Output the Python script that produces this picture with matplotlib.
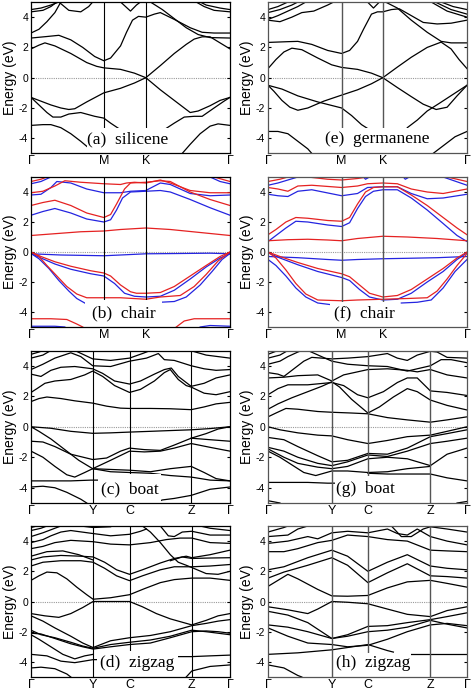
import matplotlib
matplotlib.use("Agg")
import matplotlib.pyplot as plt
from matplotlib.patches import Rectangle

plt.rcParams['font.family'] = ['Liberation Sans', 'DejaVu Sans']

# high-symmetry points (fraction of the k-path) and their labels
kpts_a = [0, 0.366, 0.577, 1]
kpts_e = [0, 0.37, 0.577, 1]
klabels_hex = ['Γ', 'M', 'K', 'Γ']
kpts_c = [0, 0.31, 0.495, 0.805, 1]
kpts_g = [0, 0.321, 0.502, 0.816, 1]
kpts_d = [0, 0.312, 0.495, 0.808, 1]
kpts_h = [0, 0.321, 0.502, 0.816, 1]
klabels_rect = ['Γ', 'Y', 'C', 'Z', 'Γ']

# ---- (a) silicene: bands as (k, E) knots
bands_a = [
    [(0, -1.3), (0.05, -1.55), (0.1, -1.8), (0.15, -2.0), (0.19, -2.1), (0.22, -2.05), (0.28, -1.6),
     (0.366, -1.0), (0.45, -0.7), (0.52, -0.35), (0.577, 0), (0.65, -0.8), (0.72, -1.5), (0.77, -2.0),
     (0.8, -2.3), (0.84, -2.2), (0.9, -1.85), (0.95, -1.5), (1, -1.3)],
    [(0, -1.3), (0.04, -1.8), (0.08, -2.3), (0.11, -2.6), (0.15, -2.6), (0.19, -2.4), (0.25, -2.3),
     (0.32, -2.55), (0.366, -2.67), (0.4, -3.0), (0.44, -3.35), (0.5, -3.7), (0.577, -3.9), (0.65, -3.6),
     (0.72, -3.0), (0.77, -2.6), (0.82, -2.55), (0.86, -2.55), (0.92, -2.0), (0.97, -1.55), (1, -1.3)],
    [(0, -3.15), (0.06, -3.1), (0.1, -3.1), (0.15, -3.3), (0.2, -3.7), (0.25, -4.2), (0.3, -4.75), (0.32, -5.0)],
    [(0.76, -5.0), (0.8, -4.4), (0.85, -3.7), (0.9, -3.2), (0.94, -3.05), (1, -3.15)],
    [(0, 1.9), (0.04, 2.15), (0.07, 2.3), (0.12, 2.1), (0.2, 1.6), (0.28, 1.0), (0.33, 0.75), (0.366, 0.65),
     (0.45, 0.55), (0.52, 0.3), (0.577, 0), (0.65, 0.8), (0.72, 1.6), (0.78, 2.2), (0.82, 2.55),
     (0.86, 2.7), (0.9, 2.7), (0.95, 2.3), (1, 1.9)],
    [(0, 2.62), (0.08, 2.72), (0.14, 2.8), (0.2, 2.5), (0.26, 2.0), (0.32, 1.4), (0.366, 1.12), (0.4, 1.3),
     (0.45, 2.1), (0.48, 3.0), (0.51, 3.8), (0.54, 4.05), (0.577, 4.0), (0.62, 4.2), (0.65, 4.3),
     (0.72, 3.85), (0.8, 3.3), (0.86, 3.0), (0.92, 2.95), (1, 2.95)],
    [(0, 2.95), (0.04, 3.2), (0.08, 3.7), (0.12, 4.3), (0.15, 5.0)],
    [(0.6, 5.0), (0.66, 4.5), (0.72, 3.9), (0.78, 3.3), (0.84, 2.85), (0.9, 2.65), (1, 2.62)],
    [(0, 4.5), (0.05, 4.6), (0.1, 4.8), (0.14, 5.0)],
    [(0, 4.35), (0.06, 4.45), (0.1, 4.7), (0.13, 5.0)],
    [(0.14, 5.0), (0.19, 4.45), (0.25, 4.35), (0.29, 4.7), (0.31, 5.0)],
    [(0.45, 5.0), (0.5, 4.4), (0.53, 4.8), (0.55, 5.0)],
    [(0.85, 5.0), (0.88, 4.8), (0.95, 4.6), (1, 4.5)],
    [(0.83, 5.0), (0.87, 4.7), (0.92, 4.45), (1, 4.35)],
]

# ---- (e) germanene
bands_e = [
    [(0, -0.5), (0.03, -0.9), (0.07, -1.5), (0.11, -1.95), (0.15, -2.15), (0.2, -2.0), (0.28, -1.55),
     (0.37, -1.15), (0.45, -0.8), (0.52, -0.4), (0.577, 0), (0.65, -0.65), (0.72, -1.25), (0.78, -1.75),
     (0.845, -2.1), (0.9, -1.95), (0.95, -1.2), (1, -0.5)],
    [(0, -0.5), (0.07, -0.75), (0.15, -1.2), (0.25, -1.6), (0.37, -2.0), (0.42, -2.5), (0.47, -3.1), (0.5, -3.35)],
    [(0.7, -3.3), (0.75, -2.8), (0.8, -2.2), (0.86, -1.7), (0.93, -1.1), (1, -0.5)],
    [(0, -3.55), (0.05, -3.55), (0.1, -3.7), (0.15, -4.2), (0.2, -4.7), (0.22, -5.0)],
    [(0.83, -5.0), (0.88, -4.5), (0.94, -3.9), (1, -3.55)],
    [(0, 0.6), (0.04, 1.2), (0.08, 1.7), (0.12, 1.95), (0.17, 1.85), (0.25, 1.3), (0.32, 0.85), (0.37, 0.68),
     (0.45, 0.55), (0.52, 0.3), (0.577, 0), (0.65, 0.7), (0.72, 1.35), (0.8, 2.0), (0.87, 2.35),
     (0.92, 1.9), (0.96, 1.2), (1, 0.6)],
    [(0, 2.33), (0.1, 2.38), (0.15, 2.4), (0.22, 2.2), (0.3, 1.8), (0.37, 1.6), (0.41, 1.8), (0.45, 2.4),
     (0.48, 3.2), (0.52, 4.2), (0.55, 4.35), (0.577, 4.35), (0.62, 4.5), (0.66, 4.55), (0.72, 4.1),
     (0.78, 3.65), (0.85, 3.55), (0.92, 3.6), (1, 3.8)],
    [(0.59, 5.0), (0.65, 4.6), (0.72, 3.8), (0.8, 3.0), (0.87, 2.4), (0.92, 2.3), (1, 2.3)],
    [(0, 3.8), (0.06, 3.7), (0.12, 4.0), (0.17, 4.3), (0.23, 4.4), (0.3, 4.8), (0.33, 5.0)],
    [(0, 3.85), (0.05, 4.1), (0.1, 4.4), (0.15, 4.7), (0.19, 5.0)],
    [(0, 4.3), (0.06, 4.5), (0.12, 4.8), (0.15, 5.0)],
    [(0, 4.5), (0.05, 4.7), (0.1, 5.0)],
    [(0.5, 5.0), (0.53, 4.6), (0.56, 5.0)],
    [(0.87, 5.0), (0.93, 4.7), (1, 4.5)],
    [(0.84, 5.0), (0.92, 4.5), (1, 4.2)],
    [(0.82, 5.0), (0.9, 4.4), (1, 4.0)],
]

# ---- (b) silicene chair, spin up (red) / spin down (blue)
bands_b_up = [
    [(0, 1.1), (0.15, 1.25), (0.25, 1.35), (0.366, 1.4), (0.45, 1.5), (0.577, 1.6), (0.7, 1.5), (0.85, 1.3), (1, 1.1)],
    [(0, 3.1), (0.06, 3.3), (0.12, 3.45), (0.2, 3.1), (0.28, 2.6), (0.366, 2.3), (0.4, 2.5), (0.43, 3.2),
     (0.47, 4.2), (0.5, 4.6), (0.577, 4.65), (0.65, 4.75), (0.7, 4.7), (0.8, 4.0), (0.9, 3.5), (1, 3.1)],
    [(0, 3.95), (0.06, 4.05), (0.12, 4.4), (0.17, 4.75), (0.25, 4.65), (0.366, 4.55), (0.45, 4.5), (0.48, 4.6),
     (0.52, 4.65), (0.577, 4.6), (0.65, 4.8), (0.7, 4.6), (0.8, 4.1), (0.9, 3.95), (1, 3.95)],
    [(0, 4.7), (0.05, 4.85), (0.08, 5.0)],
    [(0.92, 5.0), (1, 4.7)],
    [(0, 0), (0.05, -0.3), (0.12, -0.65), (0.2, -0.95), (0.3, -1.25), (0.366, -1.4), (0.4, -1.6), (0.45, -2.2),
     (0.5, -2.65), (0.53, -2.75), (0.577, -2.75), (0.65, -2.7), (0.72, -2.3), (0.8, -1.6), (0.88, -0.9),
     (0.95, -0.3), (1, 0)],
    [(0, 0), (0.04, -0.3), (0.08, -0.9), (0.13, -1.6), (0.18, -2.3), (0.23, -2.8), (0.28, -3.05), (0.366, -3.05),
     (0.45, -3.05), (0.577, -3.15), (0.65, -3.0), (0.75, -2.9), (0.82, -2.3), (0.88, -1.5), (0.94, -0.6), (1, 0)],
    [(0, -4.45), (0.1, -4.45), (0.18, -4.5), (0.23, -4.8), (0.26, -5.0)],
    [(0.73, -5.0), (0.77, -4.6), (0.82, -4.45), (1, -4.45)],
]
bands_b_dn = [
    [(0, -0.12), (0.15, -0.2), (0.366, -0.25), (0.45, -0.2), (0.577, -0.12), (0.75, -0.1), (0.9, -0.08), (1, -0.12)],
    [(0, 2.45), (0.06, 2.7), (0.12, 2.9), (0.2, 2.6), (0.28, 2.2), (0.366, 2.0), (0.4, 2.15), (0.43, 2.8),
     (0.46, 3.6), (0.5, 4.0), (0.577, 4.05), (0.65, 4.1), (0.7, 4.0), (0.8, 3.5), (0.9, 2.95), (1, 2.45)],
    [(0, 3.8), (0.05, 3.85), (0.1, 4.3), (0.13, 4.7), (0.2, 4.6), (0.28, 4.2), (0.366, 3.95), (0.45, 3.95),
     (0.5, 4.05), (0.577, 4.1), (0.65, 4.6), (0.7, 4.5), (0.8, 3.9), (0.9, 3.75), (1, 3.8)],
    [(0, 4.55), (0.05, 4.7), (0.1, 5.0)],
    [(0.9, 5.0), (0.95, 4.7), (1, 4.55)],
    [(0, -0.1), (0.05, -0.4), (0.12, -0.8), (0.2, -1.15), (0.3, -1.45), (0.366, -1.6), (0.42, -2.1),
     (0.47, -2.75), (0.52, -2.95), (0.577, -3.0), (0.65, -2.95), (0.72, -2.55), (0.8, -1.8), (0.88, -1.0),
     (0.95, -0.4), (1, -0.1)],
    [(0, -0.1), (0.04, -0.45), (0.09, -1.1), (0.14, -1.9), (0.19, -2.6), (0.23, -3.1), (0.27, -3.4)],
    [(0.65, -3.35), (0.72, -3.3), (0.78, -3.0), (0.85, -2.2), (0.91, -1.3), (0.96, -0.5), (1, -0.1)],
    [(0, -4.95), (0.12, -4.95), (0.17, -5.0)],
    [(0.85, -5.0), (0.9, -4.9), (1, -4.95)],
]

# ---- (f) germanene chair
bands_f_up = [
    [(0, 0.75), (0.1, 0.82), (0.2, 0.85), (0.3, 0.8), (0.37, 0.75), (0.45, 0.9), (0.577, 1.05), (0.7, 1.0),
     (0.85, 0.9), (1, 0.75)],
    [(0, 1.15), (0.04, 1.5), (0.09, 2.0), (0.14, 2.3), (0.2, 2.25), (0.3, 2.1), (0.37, 2.05), (0.41, 2.3),
     (0.45, 3.2), (0.49, 4.0), (0.53, 4.3), (0.577, 4.35), (0.65, 4.35), (0.72, 3.8), (0.8, 3.1), (0.88, 2.3),
     (0.95, 1.6), (1, 1.15)],
    [(0, 4.3), (0.05, 4.2), (0.1, 4.05), (0.15, 4.4), (0.22, 4.45), (0.37, 4.3), (0.45, 4.4), (0.5, 4.55),
     (0.577, 4.6), (0.65, 4.55), (0.72, 4.2), (0.8, 4.0), (0.88, 3.9), (1, 4.2)],
    [(0, 4.7), (0.06, 4.85), (0.1, 5.0)],
    [(0.2, 5.0), (0.3, 4.85), (0.37, 4.8), (0.45, 4.9), (0.5, 5.0)],
    [(0.9, 5.0), (1, 4.7)],
    [(0, 0), (0.06, -0.3), (0.15, -0.7), (0.25, -1.1), (0.37, -1.45), (0.41, -1.65), (0.46, -2.2), (0.51, -2.75),
     (0.577, -3.0), (0.65, -2.9), (0.72, -2.5), (0.8, -1.8), (0.88, -1.1), (0.95, -0.4), (1, 0)],
    [(0, 0), (0.04, -0.4), (0.09, -1.2), (0.14, -2.1), (0.19, -2.8), (0.25, -3.2), (0.37, -3.25), (0.45, -3.2),
     (0.577, -3.15), (0.7, -3.1), (0.8, -3.05), (0.85, -2.6), (0.9, -1.8), (0.95, -0.9), (1, -0.1)],
]
bands_f_dn = [
    [(0, -0.3), (0.15, -0.38), (0.3, -0.5), (0.37, -0.55), (0.45, -0.5), (0.577, -0.45), (0.7, -0.42),
     (0.85, -0.38), (1, -0.3)],
    [(0, 0.7), (0.04, 1.1), (0.09, 1.6), (0.14, 2.05), (0.2, 2.0), (0.3, 1.8), (0.37, 1.7), (0.41, 1.95),
     (0.45, 2.9), (0.49, 3.7), (0.53, 4.05), (0.577, 4.15), (0.65, 4.15), (0.72, 3.6), (0.8, 2.8), (0.88, 1.9),
     (0.95, 1.1), (1, 0.7)],
    [(0, 3.85), (0.05, 3.75), (0.1, 3.7), (0.15, 4.05), (0.22, 4.15), (0.37, 3.75), (0.45, 3.9), (0.5, 4.3),
     (0.577, 4.35), (0.65, 4.35), (0.72, 3.9), (0.8, 3.55), (0.88, 3.6), (1, 3.85)],
    [(0, 4.45), (0.05, 4.6), (0.15, 5.0)],
    [(0.48, 5.0), (0.49, 4.85), (0.51, 5.0)],
    [(0.68, 5.0), (0.69, 4.85), (0.71, 5.0)],
    [(0.88, 5.0), (1, 4.45)],
    [(0, -0.05), (0.06, -0.4), (0.15, -0.85), (0.25, -1.3), (0.37, -1.7), (0.41, -1.9), (0.46, -2.5),
     (0.51, -3.0), (0.577, -3.2), (0.65, -3.15), (0.72, -2.75), (0.8, -2.0), (0.88, -1.3), (0.95, -0.5), (1, -0.05)],
    [(0, -0.5), (0.04, -0.9), (0.09, -1.6), (0.14, -2.4), (0.19, -3.0), (0.25, -3.4), (0.31, -3.5)],
    [(0.67, -3.4), (0.75, -3.35), (0.82, -3.2), (0.88, -2.4), (0.94, -1.3), (1, -0.5)],
]

# ---- (c) silicene boat
bands_c = [
    [(0, 1.65), (0.04, 1.85), (0.08, 1.95), (0.15, 1.85), (0.22, 1.7), (0.31, 1.55), (0.38, 1.35), (0.45, 1.22),
     (0.495, 1.2), (0.6, 1.2), (0.7, 1.18), (0.805, 1.12), (0.87, 1.3), (0.93, 1.5), (1, 1.6)],
    [(0, 2.25), (0.03, 2.5), (0.07, 2.85), (0.12, 3.0), (0.2, 3.1), (0.27, 3.4), (0.31, 3.65), (0.36, 3.3),
     (0.42, 2.7), (0.495, 2.25), (0.55, 2.45), (0.62, 3.0), (0.67, 3.55), (0.7, 3.75), (0.74, 3.1),
     (0.78, 2.7), (0.805, 2.6), (0.87, 2.2), (0.93, 2.1), (1, 2.3)],
    [(0, 3.45), (0.05, 3.3), (0.1, 3.7), (0.15, 3.9), (0.22, 3.95), (0.31, 3.8), (0.36, 3.5), (0.42, 3.0),
     (0.495, 2.8), (0.55, 3.0), (0.62, 3.45), (0.67, 3.75), (0.705, 3.85), (0.74, 3.3), (0.78, 2.9),
     (0.805, 2.65), (0.87, 2.85), (0.93, 3.2), (1, 3.4)],
    [(0, 3.75), (0.06, 4.1), (0.12, 4.5), (0.2, 4.85), (0.25, 4.6), (0.31, 4.0), (0.4, 3.95), (0.495, 4.3),
     (0.58, 4.5), (0.64, 4.8), (0.67, 4.4), (0.72, 4.35), (0.805, 4.0), (0.87, 3.8), (0.93, 3.7), (1, 3.75)],
    [(0, 4.5), (0.06, 4.7), (0.1, 5.0)],
    [(0, 4.75), (0.04, 4.9), (0.06, 5.0)],
    [(0.22, 5.0), (0.31, 4.45), (0.4, 4.35), (0.495, 4.5), (0.56, 4.8), (0.6, 5.0)],
    [(0.8, 5.0), (0.88, 4.7), (0.94, 4.6), (1, 4.5)],
    [(0, 0), (0.1, -0.1), (0.2, -0.3), (0.31, -0.43), (0.4, -0.4), (0.495, -0.35), (0.6, -0.3), (0.7, -0.25),
     (0.805, -0.2), (0.9, -0.12), (1, 0)],
    [(0, 0), (0.04, -0.3), (0.1, -0.8), (0.17, -1.5), (0.24, -2.2), (0.31, -2.75), (0.4, -2.8), (0.495, -2.85),
     (0.6, -2.95), (0.7, -2.75), (0.805, -2.6), (0.87, -3.0), (0.93, -3.4), (1, -3.55)],
    [(0, -0.95), (0.06, -1.0), (0.12, -1.3), (0.2, -1.8), (0.31, -2.15), (0.38, -2.05), (0.45, -1.6),
     (0.495, -1.4), (0.57, -1.5), (0.65, -1.55), (0.72, -1.2), (0.805, -0.75), (0.88, -0.45), (0.94, -0.15), (1, 0)],
    [(0, -1.6), (0.06, -2.0), (0.12, -2.6), (0.18, -3.15), (0.22, -3.3), (0.27, -3.0), (0.31, -2.75),
     (0.4, -2.2), (0.495, -1.6), (0.57, -1.65), (0.65, -1.6), (0.72, -1.4), (0.805, -1.1), (0.9, -1.35), (1, -1.6)],
    [(0.805, -0.75), (0.9, -0.85), (1, -0.95)],
    [(0.31, -2.75), (0.4, -2.95), (0.495, -3.0), (0.6, -3.05), (0.7, -3.2), (0.805, -3.3), (0.9, -3.5), (1, -3.55)],
    [(0, -3.55), (0.1, -3.55), (0.2, -3.55), (0.3, -3.5), (0.34, -3.5)],
    [(0, -3.95), (0.06, -3.9), (0.12, -4.0), (0.18, -4.3), (0.25, -4.75), (0.28, -5.0)],
    [(0.62, -5.0), (0.66, -4.8), (0.72, -4.7), (0.805, -4.5), (0.9, -4.1), (1, -3.95)],
]

# ---- (g) germanene boat
bands_g = [
    [(0, 0.65), (0.04, 0.9), (0.09, 1.2), (0.15, 1.15), (0.25, 1.0), (0.321, 0.95), (0.42, 0.9), (0.502, 0.85),
     (0.6, 0.6), (0.7, 0.45), (0.816, 0.3), (0.9, 0.45), (1, 0.65)],
    [(0, 1.15), (0.05, 1.5), (0.12, 1.9), (0.2, 2.3), (0.27, 2.65), (0.321, 2.95), (0.36, 2.6), (0.42, 1.8),
     (0.502, 0.9), (0.56, 1.3), (0.63, 1.95), (0.7, 2.5), (0.75, 2.3), (0.816, 1.75), (0.9, 1.4), (1, 1.1)],
    [(0, 2.1), (0.05, 2.5), (0.1, 2.75), (0.2, 2.75), (0.321, 2.9), (0.38, 2.7), (0.45, 2.1), (0.502, 1.9),
     (0.58, 2.3), (0.65, 2.9), (0.7, 3.2), (0.75, 3.2), (0.816, 2.35), (0.9, 2.25), (1, 2.05)],
    [(0, 3.2), (0.08, 3.25), (0.15, 3.35), (0.25, 3.4), (0.321, 3.0), (0.38, 3.4), (0.502, 3.75), (0.6, 3.8),
     (0.7, 3.7), (0.75, 3.6), (0.816, 3.75), (0.9, 3.4), (1, 3.2)],
    [(0, 3.55), (0.05, 3.45), (0.08, 3.3), (0.13, 3.8), (0.18, 4.3), (0.22, 4.55), (0.321, 4.45), (0.4, 4.5),
     (0.502, 4.6), (0.6, 4.8), (0.65, 4.5), (0.7, 4.35), (0.75, 4.7), (0.816, 4.95), (0.85, 4.9), (0.9, 4.55),
     (1, 4.5)],
    [(0, 4.1), (0.06, 4.3), (0.1, 4.6), (0.15, 4.9), (0.17, 5.0)],
    [(0, 4.5), (0.06, 4.7), (0.1, 5.0)],
    [(0, 4.75), (0.04, 4.95), (0.05, 5.0)],
    [(0.2, 5.0), (0.321, 4.3), (0.4, 4.1), (0.502, 4.0), (0.6, 3.95), (0.7, 3.65), (0.816, 4.0), (0.87, 4.4),
     (0.92, 4.4), (1, 4.2)],
    [(0, 0), (0.06, -0.2), (0.15, -0.4), (0.25, -0.55), (0.321, -0.6), (0.4, -0.85), (0.502, -1.1), (0.6, -0.9),
     (0.7, -0.65), (0.816, -0.55), (0.9, -0.3), (1, 0)],
    [(0, -0.7), (0.08, -0.85), (0.15, -1.3), (0.25, -1.9), (0.321, -2.3), (0.4, -2.2), (0.502, -1.75),
     (0.6, -1.8), (0.7, -1.4), (0.816, -0.65), (0.9, -0.45), (1, -0.2)],
    [(0, -1.35), (0.08, -1.6), (0.15, -2.0), (0.25, -2.4), (0.321, -2.55), (0.4, -2.3), (0.502, -1.85),
     (0.6, -1.95), (0.7, -1.6), (0.816, -1.1), (0.9, -0.95), (1, -0.75)],
    [(0, -1.45), (0.08, -2.0), (0.15, -2.4), (0.25, -2.65), (0.321, -2.75), (0.4, -2.6), (0.502, -2.1),
     (0.6, -2.0), (0.7, -2.1), (0.816, -2.55), (0.9, -1.8), (1, -1.4)],
    [(0, -1.6), (0.06, -2.0), (0.12, -2.5), (0.18, -3.0), (0.24, -3.2), (0.321, -2.9), (0.4, -2.9),
     (0.502, -3.0), (0.6, -2.95), (0.7, -2.75), (0.816, -2.6)],
    [(0.502, -3.05), (0.6, -3.1), (0.7, -3.1), (0.816, -3.1), (0.9, -3.35), (1, -3.55)],
    [(0, -3.65), (0.1, -3.65), (0.2, -3.65), (0.3, -3.7), (0.335, -3.7)],
    [(0, -4.85), (0.04, -4.95), (0.06, -5.0)],
    [(0.95, -5.0), (1, -4.9)],
]

# ---- (d) silicene zigzag
bands_d = [
    [(0, 1.4), (0.04, 1.7), (0.08, 1.95), (0.13, 1.9), (0.18, 1.5), (0.23, 0.95), (0.28, 0.45), (0.312, 0.15),
     (0.4, 0.25), (0.495, 0.45), (0.57, 0.85), (0.65, 1.25), (0.72, 1.45), (0.808, 1.55), (0.9, 1.55), (1, 1.4)],
    [(0, 2.35), (0.06, 2.6), (0.15, 2.7), (0.25, 2.7), (0.312, 2.6), (0.37, 2.2), (0.43, 1.7), (0.495, 1.38),
     (0.56, 1.7), (0.65, 2.1), (0.72, 2.3), (0.808, 2.3), (0.9, 2.35), (1, 2.45)],
    [(0, 2.75), (0.06, 2.95), (0.15, 3.05), (0.25, 3.0), (0.312, 2.95), (0.37, 2.6), (0.43, 2.1), (0.495, 1.8),
     (0.56, 2.1), (0.65, 2.55), (0.72, 2.85), (0.78, 3.0), (0.808, 2.9), (0.9, 3.1), (1, 3.4)],
    [(0.7, 2.7), (0.76, 2.95), (0.808, 2.85), (0.9, 2.88), (1, 2.9)],
    [(0.56, 5.0), (0.6, 4.6), (0.65, 3.9), (0.7, 3.1), (0.74, 2.6), (0.78, 2.4), (0.808, 2.25), (0.88, 1.85),
     (0.94, 1.8), (1, 2.0)],
    [(0, 3.0), (0.08, 3.3), (0.16, 3.35), (0.24, 3.1), (0.312, 2.75)],
    [(0, 3.5), (0.06, 3.65), (0.12, 3.9), (0.2, 4.05), (0.312, 3.96), (0.4, 3.8), (0.495, 3.75), (0.6, 3.9),
     (0.68, 4.1), (0.75, 4.2), (0.808, 4.2), (0.9, 3.9), (1, 3.85)],
    [(0, 3.9), (0.06, 4.1), (0.1, 4.35), (0.15, 4.6), (0.2, 4.7), (0.312, 4.5), (0.4, 4.35), (0.495, 4.45),
     (0.55, 4.65), (0.58, 4.8)],
    [(0.65, 5.0), (0.69, 4.35), (0.72, 4.3), (0.76, 4.6), (0.808, 4.65), (0.9, 4.4), (1, 4.4)],
    [(0, 4.3), (0.06, 4.55), (0.12, 4.85), (0.15, 5.0)],
    [(0, 4.7), (0.05, 4.85), (0.08, 5.0)],
    [(0, 4.9), (0.03, 5.0)],
    [(0.25, 5.0), (0.312, 4.9), (0.4, 4.95)],
    [(0.85, 5.0), (0.9, 4.85), (1, 4.7)],
    [(0, -0.8), (0.07, -0.95), (0.14, -1.05), (0.2, -0.8), (0.26, -0.4), (0.312, 0), (0.4, 0), (0.495, 0),
     (0.56, -0.35), (0.63, -0.8), (0.7, -1.15), (0.808, -1.55), (0.88, -1.25), (0.94, -0.95), (1, -0.8)],
    [(0, -0.95), (0.06, -1.3), (0.12, -1.75), (0.2, -2.3), (0.26, -2.75), (0.312, -3.05), (0.4, -2.6),
     (0.495, -2.4), (0.6, -2.25), (0.7, -2.0), (0.808, -1.6), (0.88, -1.45), (0.94, -1.3), (1, -1.2)],
    [(0, -1.9), (0.05, -2.2), (0.12, -2.4), (0.2, -2.7), (0.26, -2.95), (0.312, -3.1), (0.4, -2.85),
     (0.495, -2.7), (0.6, -2.55), (0.7, -2.3), (0.808, -1.9), (0.88, -2.0), (0.94, -2.1), (1, -2.2)],
    [(0, -2.1), (0.05, -2.15), (0.12, -2.45), (0.2, -2.8), (0.26, -3.0), (0.312, -3.15), (0.4, -3.0),
     (0.495, -2.85), (0.6, -2.75), (0.7, -2.4), (0.808, -2.0), (0.88, -1.95), (0.94, -2.0), (1, -2.1)],
    [(0, -2.2), (0.04, -2.5), (0.1, -3.0), (0.16, -3.5), (0.22, -3.8), (0.27, -3.6), (0.312, -3.5)],
    [(0, -3.5), (0.08, -3.6), (0.15, -3.95), (0.22, -4.05), (0.312, -3.85), (0.33, -3.85)],
    [(0, -4.4), (0.05, -4.35), (0.12, -4.45), (0.18, -4.8), (0.2, -5.0)],
    [(0.74, -3.65), (0.808, -3.65), (0.9, -3.6), (1, -3.55)],
    [(0.78, -5.0), (0.808, -4.6), (0.9, -4.3), (1, -4.2)],
]

# ---- (h) germanene zigzag
bands_h = [
    [(0, -0.35), (0.1, -0.55), (0.2, -0.8), (0.25, -0.5), (0.321, 0), (0.4, -0.05), (0.502, -0.15), (0.6, -0.5),
     (0.7, -0.85), (0.816, -1.0), (0.9, -0.6), (1, -0.35)],
    [(0, -0.65), (0.1, -0.9), (0.2, -1.4), (0.321, -2.45), (0.4, -2.2), (0.502, -1.65), (0.6, -1.6), (0.7, -1.4),
     (0.816, -1.2), (0.9, -1.0), (1, -0.75)],
    [(0, -1.55), (0.1, -1.7), (0.2, -2.0), (0.321, -2.45), (0.4, -2.3), (0.502, -2.0), (0.6, -1.9), (0.7, -1.7),
     (0.816, -1.25), (0.9, -1.5), (1, -1.75)],
    [(0, -1.75), (0.1, -2.3), (0.2, -2.75), (0.321, -2.85), (0.4, -3.0), (0.502, -2.9), (0.6, -2.5), (0.7, -2.0),
     (0.816, -1.55), (0.9, -1.45), (1, -1.6)],
    [(0, -3.5), (0.15, -3.4), (0.321, -3.2), (0.502, -2.85), (0.6, -3.25), (0.63, -3.35)],
    [(0.72, -3.5), (0.816, -3.5), (1, -3.5)],
    [(0, -4.2), (0.08, -4.4), (0.15, -4.9), (0.17, -5.0)],
    [(0, 1.0), (0.05, 1.4), (0.1, 1.8), (0.15, 1.5), (0.25, 0.8), (0.321, 0.37), (0.4, 0.35), (0.502, 0.4),
     (0.6, 0.9), (0.7, 1.3), (0.816, 1.4), (0.9, 1.2), (1, 0.95)],
    [(0, 1.55), (0.08, 1.95), (0.2, 2.4), (0.321, 2.9), (0.4, 2.4), (0.502, 1.25), (0.6, 1.9), (0.7, 2.5),
     (0.816, 1.7), (0.9, 1.65), (1, 1.55)],
    [(0, 2.1), (0.08, 2.3), (0.2, 2.9), (0.321, 3.4), (0.4, 3.0), (0.502, 2.0), (0.6, 2.6), (0.7, 3.1),
     (0.816, 2.35), (0.9, 2.2), (1, 2.1)],
    [(0, 3.3), (0.08, 3.3), (0.15, 3.5), (0.25, 3.9), (0.321, 4.05), (0.4, 4.4), (0.502, 4.3), (0.6, 4.1),
     (0.7, 4.0), (0.816, 3.4), (0.9, 3.35), (1, 3.3)],
    [(0, 3.85), (0.1, 4.0), (0.2, 4.3), (0.25, 4.15), (0.321, 4.55), (0.4, 4.65), (0.502, 4.55), (0.6, 4.8),
     (0.65, 4.5), (0.7, 4.4), (0.75, 4.8), (0.816, 4.3), (0.9, 4.0), (1, 3.75)],
    [(0, 4.3), (0.1, 4.4), (0.15, 4.8), (0.2, 5.0)],
    [(0, 4.6), (0.08, 4.9), (0.1, 5.0)],
    [(0.816, 4.95), (0.9, 4.8), (1, 4.6)],
    [(0.62, 5.0), (0.67, 4.3), (0.72, 4.3), (0.78, 4.8), (0.816, 4.95)],
]

# panel labels
labels = ['(a)  silicene', '(e)  germanene', '(b)  chair', '(f)  chair',
          '(c)  boat', '(g)  boat', '(d)  zigzag', '(h)  zigzag']

RED = '#e52222'
BLUE = '#2424e0'

fig = plt.figure(figsize=(4.72, 6.9), dpi=100)

lefts = [31 / 472, 268 / 472]
w = 199 / 472
rows = [(2, 153.4), (177, 327), (350.5, 503), (526, 677)]


def make_ax(col, row):
    top, bot = rows[row]
    return fig.add_axes([lefts[col], 1 - bot / 690, w, (bot - top) / 690])


def draw(ax, kpts, klabels, sets, label, box, vcol):
    for bands, color in sets:
        for b in bands:
            ax.plot([p[0] for p in b], [p[1] for p in b], color=color, lw=0.9, zorder=2)
    for k in kpts[1:-1]:
        ax.axvline(k, color=vcol, lw=1.0 if vcol != 'black' else 0.8, zorder=2.2)
    ax.axhline(0, color='#9a9a9a', lw=0.8, ls=(0, (1, 1)), zorder=1)
    x0, x1, ytop = box
    ax.add_patch(Rectangle((x0, -5), x1 - x0, ytop + 5, facecolor='white',
                           edgecolor='none', zorder=3))
    ax.text((x0 + x1) / 2, -4.08, label, ha='center', va='center', fontsize=12.5,
            family='Liberation Serif', zorder=4)
    ax.set_xlim(0, 1)
    ax.set_ylim(-5, 5)
    ax.set_xticks(kpts)
    ax.set_xticklabels(klabels, fontsize=9)
    ax.set_yticks([-4, -2, 0, 2, 4])
    ax.set_yticklabels(['-4', '-2', '0', '2', '4'], fontsize=7.5)
    ax.tick_params(axis='x', length=0, pad=1.5)
    ax.tick_params(axis='y', direction='in', length=2.5, right=True, pad=2)
    ax.set_ylabel('Energy (eV)', fontsize=10, labelpad=1)
    for s in ax.spines.values():
        s.set_zorder(6)
        s.set_linewidth(0.9)
        s.set_color(vcol)


ax = make_ax(0, 0)
draw(ax, kpts_a, klabels_hex, [(bands_a, 'black')], labels[0], (0.28, 0.69, -3.3), 'black')
ax = make_ax(1, 0)
draw(ax, kpts_e, klabels_hex, [(bands_e, 'black')], labels[1], (0.32, 0.78, -3.3), '#555555')
ax = make_ax(0, 1)
draw(ax, kpts_a, klabels_hex, [(bands_b_dn, BLUE), (bands_b_up, RED)], labels[2], (0.27, 0.66, -3.22), 'black')
ax = make_ax(1, 1)
draw(ax, kpts_e, klabels_hex, [(bands_f_dn, BLUE), (bands_f_up, RED)], labels[3], (0.31, 0.66, -3.3), '#555555')
ax = make_ax(0, 2)
draw(ax, kpts_c, klabels_rect, [(bands_c, 'black')], labels[4], (0.335, 0.655, -3.1), 'black')
ax = make_ax(1, 2)
draw(ax, kpts_g, klabels_rect, [(bands_g, 'black')], labels[5], (0.335, 0.64, -3.25), '#555555')
ax = make_ax(0, 3)
draw(ax, kpts_d, klabels_rect, [(bands_d, 'black')], labels[6], (0.33, 0.74, -3.3), 'black')
ax = make_ax(1, 3)
draw(ax, kpts_h, klabels_rect, [(bands_h, 'black')], labels[7], (0.335, 0.72, -3.4), '#555555')

fig.savefig('out.png', dpi=100)
